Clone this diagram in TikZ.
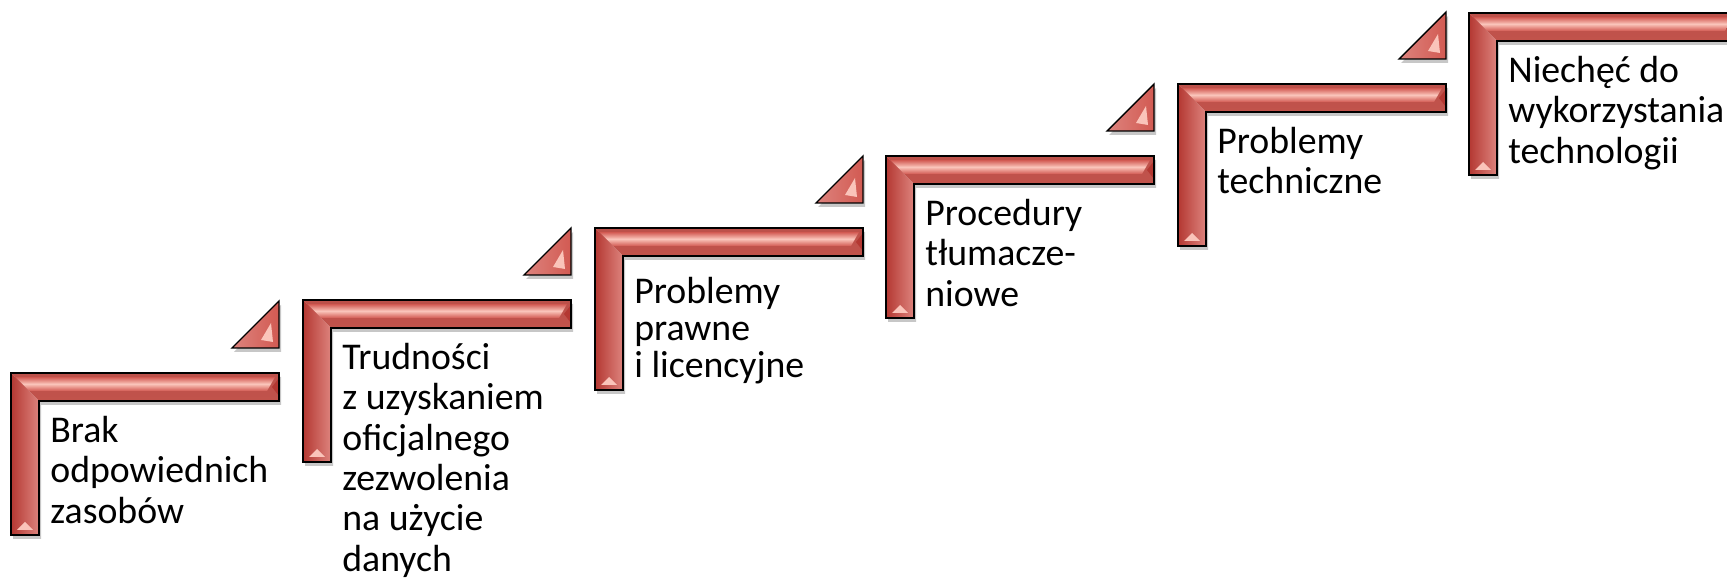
\documentclass[tikz,border=0pt]{standalone}
\usepackage{fontspec}
\setmainfont{Carlito}
\usetikzlibrary{positioning}

\definecolor{stepred}{RGB}{210,90,82}
\definecolor{steplight}{RGB}{250,196,186}
\definecolor{stepdark}{RGB}{180,56,50}

% One step of the stairs: an L-shaped bar, top left corner at #1
\newcommand{\stairbar}[1]{%
  \begin{scope}[shift={(#1)}]
    \fill[black,opacity=.22] (2,-4) -- (270,-4) -- (270,-32) -- (30,-32)
      -- (30,-166) -- (2,-166) -- cycle;
    \path[top color=stepred!90!black,bottom color=stepred!92!black]
      (0,0) -- (268,0) -- (268,-28) -- (28,-28) -- cycle;
    \path[top color=stepred,bottom color=steplight]
      (4,-4) -- (264,-4) -- (260,-11) -- (11,-11) -- cycle;
    \path[top color=steplight,bottom color=stepred]
      (11,-11) -- (260,-11) -- (256,-18) -- (18,-18) -- cycle;
    \path[left color=stepdark,right color=stepred!75!white]
      (0,0) -- (28,-28) -- (28,-162) -- (0,-162) -- cycle;
    \fill[steplight] (6,-157) -- (22,-157) -- (14,-149) -- cycle;
    \fill[stepdark] (268,-5) -- (261,-14) -- (268,-23) -- cycle;
    \draw[line width=.8pt] (0,0) -- (268,0) -- (268,-28) -- (28,-28)
      -- (28,-162) -- (0,-162) -- cycle;
  \end{scope}}

% The small triangle above the right end of a step with corner #1
\newcommand{\stairtip}[1]{%
  \begin{scope}[shift={(#1)}]
    \fill[black,opacity=.22] (223,21) -- (270,21) -- (270,68) -- cycle;
    \path[left color=stepred!75!white,right color=stepred]
      (221,25) -- (268,25) -- (268,72) -- cycle;
    \fill[steplight] (250,33) -- (262,31) -- (260,50) -- cycle;
    \draw[line width=.8pt] (221,25) -- (268,25) -- (268,72) -- cycle;
  \end{scope}}

\begin{document}
\begin{tikzpicture}[x=0.02cm,y=0.02cm,
  steptext/.style={inner sep=0pt,align=left,
    font=\fontsize{21.5pt}{23pt}\selectfont,execute at begin node=\strut}]

\useasboundingbox (0,0) rectangle (1727,581);
\clip (0,0) rectangle (1727,581);

% Top left corners of the six steps
\coordinate (P1) at (11,208);
\coordinate (P2) at (303,281);
\coordinate (P3) at (595,353);
\coordinate (P4) at (886,425);
\coordinate (P5) at (1178,497);
\coordinate (P6) at (1469,568);

% The stairs and the triangles between them
\stairbar{P1} \stairtip{P1}
\stairbar{P2} \stairtip{P2}
\stairbar{P3} \stairtip{P3}
\stairbar{P4} \stairtip{P4}
\stairbar{P5} \stairtip{P5}
\stairbar{P6}

% Labels under each step
\node[steptext,below right=0.853cm and 0.78cm of P1] (T1)
  {Brak\\odpowiednich\\zasobów};
\node[steptext,below right=0.853cm and 0.78cm of P2] (T2)
  {Trudności\\z uzyskaniem\\oficjalnego\\zezwolenia\\na użycie\\danych};
\node[steptext,below right=0.98cm and 0.78cm of P3,
  font=\fontsize{21.5pt}{21pt}\selectfont] (T3)
  {Problemy\\prawne\\i licencyjne};
\node[steptext,below right=0.853cm and 0.78cm of P4] (T4)
  {Procedury\\tłumacze-\\niowe};
\node[steptext,below right=0.853cm and 0.78cm of P5] (T5)
  {Problemy\\techniczne};
\node[steptext,below right=0.853cm and 0.78cm of P6] (T6)
  {Niechęć do\\wykorzystania\\technologii};

\end{tikzpicture}
\end{document}
